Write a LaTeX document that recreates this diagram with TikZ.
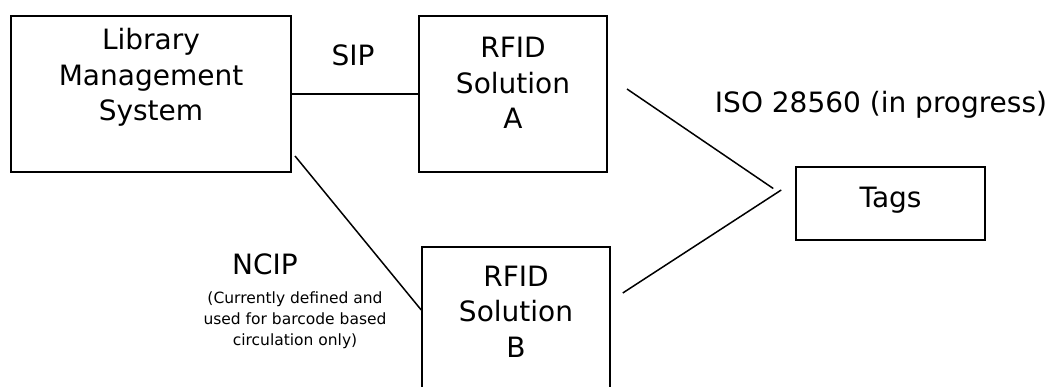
\documentclass[tikz,border=0pt]{standalone}
\usepackage{fontspec}
\setmainfont{DejaVu Sans}
\usepackage{tikz}
\usetikzlibrary{positioning}
\tikzstyle{link} = [line width=1.5pt]

\begin{document}
\begin{tikzpicture}[x=1pt,y=1pt,
  box/.style = {draw,line width=2pt,minimum width=280pt,minimum height=156pt,
  inner sep=0pt},
  thinbox/.style = {box,line width=1.5pt},
  title/.style = {align=center,anchor=base,inner sep=0pt,
  font=\fontsize{28}{35.5}\selectfont},
  note/.style = {align=center,anchor=base,inner sep=0pt,
  font=\fontsize{15.5}{21}\selectfont}]
 \useasboundingbox (0,0) rectangle (1062,-387);
 \node[box] (lms)    at (151,-94) {};
 \node[box,minimum width=188pt] (rfida)    at (513,-94) {};
 \node[thinbox,minimum width=188pt] (rfidb)    at (516,-325) {};
 \node[thinbox,minimum width=189pt,minimum height=73pt,text height=14pt,
  font=\fontsize{28}{35.5}\selectfont] (tags)    at (890.5,-203.5) {Tags};
 % box texts hang from the top edge (base = last line)
 \node[title] (lmstext) at ([yshift=-106pt]lms.north) {Library\\Management\\System};
 \node[title] (rfidatext) at ([yshift=-114pt]rfida.north) {RFID\\Solution\\A};
 \node[title] (rfidbtext) at ([yshift=-111pt]rfidb.north) {RFID\\Solution\\B};
 \node[title] (sip) at (353,-66) {SIP};
 \node[title] (iso) at (881,-113) {ISO 28560 (in progress)};
 \node[title] (ncip) at (265,-274) {NCIP};
 \node[note] (ncipnote) at (295,-345) {(Currently defined and\\used for barcode based\\circulation only)};
 \coordinate (ncipa) at ([shift={(3,17)}]lms.south east);
 \coordinate (ncipb) at ([yshift=15pt]rfidb.west);
 \coordinate (isoa) at ([shift={(19,5)}]rfida.east);
 \coordinate (isob) at ([shift={(12,32)}]rfidb.east);
 \coordinate (tagsa) at ([shift={(-22,15)}]tags.west);
 \coordinate (tagsb) at ([shift={(-14,13.5)}]tags.west);
 \draw[link] (lms) -- (rfida);
 \draw[link] (ncipa) -- (ncipb);
 \draw[link] (isoa) -- (tagsa);
 \draw[link] (isob) -- (tagsb);
\end{tikzpicture}
\end{document}
